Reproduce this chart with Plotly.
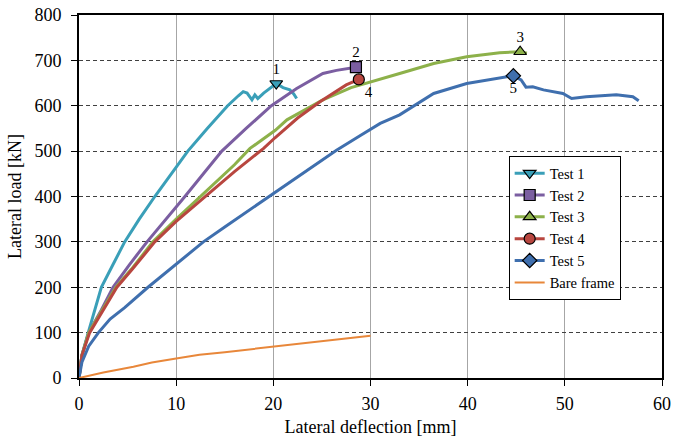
import plotly.graph_objects as go

# ---- data ----
t1_x = [0, 0.3, 0.95, 2.3, 3.5, 4.7, 6.2, 7.8, 9.5, 11.2, 13.2, 15.3, 16.4, 16.9, 17.3, 17.8, 18.1, 18.4, 19.0, 19.6, 20.3, 21.0, 21.7, 22.1, 22.4]
t1_y = [0, 50, 100, 200, 250, 300, 350, 400, 450, 500, 550, 600, 622, 631, 628, 613, 624, 616, 628, 638, 649, 640, 635, 626, 616]

t2_x = [0, 0.3, 1.0, 2.3, 3.5, 5.2, 7.0, 9.0, 10.9, 12.8, 14.7, 17.2, 19.8, 22.4, 23.5, 25.1, 26.5, 27.9, 28.5]
t2_y = [0, 50, 100, 150, 200, 250, 300, 350, 400, 450, 500, 550, 600, 638, 652, 671, 678, 682, 685]

t3_x = [0, 0.3, 1.0, 2.4, 3.8, 5.4, 7.6, 10.0, 13.0, 16.0, 17.6, 20.2, 21.4, 25.1, 28.0, 31.0, 33.0, 36.5, 39.9, 43.3, 45.4, 46.1]
t3_y = [0, 50, 100, 150, 200, 240, 300, 350, 410, 470, 506, 546, 569, 613, 640, 658, 671, 693, 708, 717, 719, 716]

t4_x = [0, 0.3, 1.1, 2.5, 3.9, 5.5, 7.8, 10.0, 13.0, 16.0, 19.0, 20.2, 22.5, 24.8, 27.5, 28.8]
t4_y = [0, 50, 100, 150, 200, 240, 300, 345, 400, 455, 506, 530, 573, 609, 646, 658]

t5_x = [0, 0.3, 1.0, 2.0, 3.2, 4.7, 7.1, 10.0, 12.8, 15.0, 17.5, 19.6, 23.0, 26.5, 29.0, 31.0, 33.0, 36.5, 39.9, 43.3, 44.7, 45.5, 46.0, 46.7, 47.8, 49.8, 50.7, 52.2, 55.3, 57.0, 57.6]
t5_y = [0, 35, 70, 100, 130, 155, 200, 250, 300, 333, 370, 400, 450, 502, 535, 561, 580, 627, 649, 662, 666, 657, 641, 642, 635, 627, 616, 620, 624, 620, 611]

bare_x = [0, 2.5, 5.6, 7.5, 10.0, 12.4, 15.0, 17.5, 20.0, 22.5, 25.0, 27.5, 30.0]
bare_y = [0, 12, 25, 34, 43, 51, 57, 63, 70, 76, 82, 87, 93]

# peak points (marker positions) and their labels
peak_x = [20.3, 28.5, 45.4, 28.8, 44.7]
peak_y = [649, 685, 719, 658, 666]
peak_labels = ["1", "2", "3", "4", "5"]
label_pos = ["top center", "top center", "top center", "bottom right", "bottom center"]

names = ["Test 1", "Test 2", "Test 3", "Test 4", "Test 5"]
colors = ["#3A9FB8", "#7B5EA1", "#8DB14A", "#B8463F", "#3F6FAE"]
symbols = ["triangle-down", "square", "triangle-up", "circle", "diamond"]
series_x = [t1_x, t2_x, t3_x, t4_x, t5_x]
series_y = [t1_y, t2_y, t3_y, t4_y, t5_y]

x_ticks = [0, 10, 20, 30, 40, 50, 60]
y_ticks = [0, 100, 200, 300, 400, 500, 600, 700, 800]

FONT = "Liberation Serif"

fig = go.Figure()

for i in range(5):
    fig.add_trace(go.Scatter(
        x=series_x[i], y=series_y[i], mode="lines",
        line=dict(color=colors[i], width=3),
        legendgroup=names[i], showlegend=False, hoverinfo="skip"))

for i in range(5):
    fig.add_trace(go.Scatter(
        x=[peak_x[i]], y=[peak_y[i]], mode="lines+markers",
        name=names[i], legendgroup=names[i],
        line=dict(color=colors[i], width=3),
        marker=dict(symbol=symbols[i], size=11, color=colors[i],
                    line=dict(color="black", width=1.2))))

fig.add_trace(go.Scatter(
    x=bare_x, y=bare_y, mode="lines", name="Bare frame",
    line=dict(color="#E8873A", width=2)))

# labels next to the peak markers
for i in range(5):
    fig.add_trace(go.Scatter(
        x=[peak_x[i]], y=[peak_y[i]], mode="markers+text", text=[peak_labels[i]],
        marker=dict(size=8, opacity=0),
        textposition=label_pos[i], textfont=dict(family=FONT, size=15, color="black"),
        showlegend=False, hoverinfo="skip", cliponaxis=False))

fig.update_layout(
    width=673, height=445,
    margin=dict(l=79, r=11, t=15, b=67),
    paper_bgcolor="white", plot_bgcolor="white",
    font=dict(family=FONT, size=18, color="black"),
    showlegend=True,
    legend=dict(x=0.737, y=0.611, xanchor="left", yanchor="top",
                bgcolor="white", bordercolor="black", borderwidth=1,
                font=dict(family=FONT, size=14.5), itemwidth=30,
                tracegroupgap=0),
)

fig.update_xaxes(
    range=[0, 60], tickvals=x_ticks, ticktext=[str(v) for v in x_ticks],
    showgrid=True, gridcolor="#A6A6A6", gridwidth=1,
    showline=True, linecolor="black", linewidth=2, mirror=True,
    ticks="outside", ticklen=6, tickcolor="black", tickwidth=1,
    zeroline=False, automargin=False, ticklabelstandoff=2,
    ticklabeloverflow="allow",
    title=dict(text="Lateral deflection [mm]", font=dict(family=FONT, size=18), standoff=8),
    tickfont=dict(family=FONT, size=18))

fig.update_yaxes(
    range=[0, 800], tickvals=y_ticks, ticktext=[str(v) for v in y_ticks],
    showgrid=True, gridcolor="#404040", gridwidth=1, griddash="4px,3px",
    showline=True, linecolor="black", linewidth=2, mirror=True,
    ticks="outside", ticklen=6, tickcolor="black", tickwidth=1,
    zeroline=False, automargin=False, ticklabelstandoff=6,
    ticklabeloverflow="allow",
    title=dict(text="Lateral load [kN]", font=dict(family=FONT, size=18), standoff=8),
    tickfont=dict(family=FONT, size=18))

fig.write_html("out.html",
               config={"displayModeBar": False},
               post_script="document.body.style.margin='0px';document.body.style.overflow='hidden';")
